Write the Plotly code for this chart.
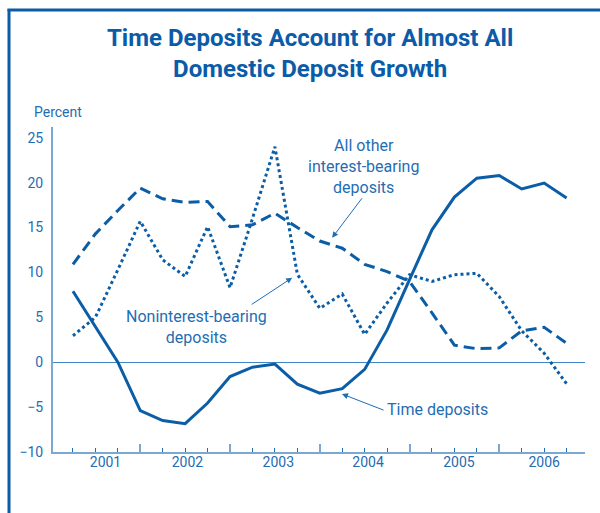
import plotly.graph_objects as go

# ---------------- data ----------------
quarters = [f"{y}Q{q}" for y in range(2001, 2007) for q in range(1, 5)][:23]
time_deposits = [7.9, 4.0, 0.0, -5.4, -6.5, -6.85, -4.55, -1.6, -0.55, -0.2, -2.45,
                 -3.45, -2.95, -0.8, 3.6, 9.2, 14.75, 18.4, 20.5, 20.8, 19.3, 19.95, 18.3]
other_interest = [10.9, 14.3, 16.9, 19.4, 18.2, 17.8, 17.9, 15.1, 15.3, 16.6, 15.0,
                  13.5, 12.7, 10.9, 10.1, 9.0, 5.5, 1.9, 1.5, 1.6, 3.5, 3.9, 2.1]
noninterest = [2.95, 5.0, 10.3, 15.7, 11.4, 9.55, 15.1, 8.3, 16.0, 24.0, 9.8,
               6.0, 7.6, 3.1, 6.6, 9.75, 9.0, 9.75, 9.9, 7.3, 3.5, 1.0, -2.4]
years = ["2001", "2002", "2003", "2004", "2005", "2006"]
year_label_pos = [1.45, 5.1, 9.15, 13.15, 17.2, 21.0]
y_ticks = [-10, -5, 0, 5, 10, 15, 20, 25]

x = list(range(len(quarters)))
major_ticks = [i for i, q in enumerate(quarters) if q.endswith("Q4")]

LINE = "#0b5ea6"
TEXT = "#1f6db3"
AXIS = "#7aa8d2"
FONT = "Roboto, sans-serif"

fig = go.Figure()
fig.add_trace(go.Scatter(x=x, y=other_interest, mode="lines",
                         line=dict(color=LINE, width=3, dash="11px,6px")))
fig.add_trace(go.Scatter(x=x, y=noninterest, mode="lines",
                         line=dict(color=LINE, width=3, dash="dot")))
fig.add_trace(go.Scatter(x=x, y=time_deposits, mode="lines",
                         line=dict(color=LINE, width=3)))
# invisible trace to carry the year labels axis
fig.add_trace(go.Scatter(x=[x[0]], y=[0], xaxis="x2", mode="markers",
                         marker=dict(opacity=0), hoverinfo="skip"))

W, H = 600, 513
ml, mr, mt, mb = 53, 15, 127, 61
xr = [-0.89, 22.82]
pw, ph = W - ml - mr, H - mt - mb


def px2paper_x(px):
    return (px - ml) / pw


def px2paper_y(py):
    return (H - mb - py) / ph


fig.update_layout(
    width=W, height=H, showlegend=False,
    margin=dict(l=ml, r=mr, t=mt, b=mb),
    paper_bgcolor="white", plot_bgcolor="white",
    font=dict(family=FONT, color=TEXT, size=14),
    xaxis=dict(range=xr, showgrid=False, zeroline=False, showline=True,
               linecolor=AXIS, linewidth=2,
               tickmode="array", tickvals=major_ticks, ticktext=["" for _ in major_ticks],
               ticks="inside", ticklen=8, tickwidth=1.5, tickcolor=AXIS,
               minor=dict(tickmode="linear", tick0=0, dtick=1, ticks="inside",
                          ticklen=4, tickwidth=1.2, tickcolor=TEXT, showgrid=False)),
    xaxis2=dict(range=xr, overlaying="x", side="bottom", anchor="y", showgrid=False,
                zeroline=False, showline=False, ticks="",
                tickmode="array", tickvals=year_label_pos, ticktext=years,
                tickfont=dict(size=14, color=TEXT)),
    yaxis=dict(range=[-10, 26.2], showgrid=False, showline=True, linecolor=AXIS,
               linewidth=2, ticks="", tickmode="array", tickvals=y_ticks,
               zeroline=True, zerolinecolor="#3f86c6", zerolinewidth=1.2,
               tickfont=dict(size=14, color=TEXT), ticklabelstandoff=5),
)

# title
fig.add_annotation(text="<b>Time Deposits Account for Almost All<br>Domestic Deposit Growth</b>",
                   xref="paper", yref="paper", x=px2paper_x(310), y=px2paper_y(53),
                   xanchor="center", yanchor="middle", showarrow=False, align="center",
                   font=dict(family=FONT, size=24, color="#0b5ca8"))

# "Percent" label
fig.add_annotation(text="Percent", xref="paper", yref="paper",
                   x=px2paper_x(58), y=px2paper_y(112),
                   xanchor="center", yanchor="middle", showarrow=False,
                   font=dict(size=14, color=TEXT))

# series labels
lab_font = dict(size=16, color=TEXT)
fig.add_annotation(text="All other<br>interest-bearing<br>deposits", x=12.93, y=21.83,
                   showarrow=False, font=lab_font, align="center")
fig.add_annotation(text="Noninterest-bearing<br>deposits", x=5.49, y=3.9,
                   showarrow=False, font=lab_font, align="center")
fig.add_annotation(text="Time deposits", x=16.23, y=-5.3,
                   showarrow=False, font=lab_font, align="center")

# arrows
for head, tail in [((11.55, 13.86), (12.93, 18.43)),
                   ((9.77, 9.41), (7.9, 6.33)),
                   ((11.99, -3.54), (13.91, -5.4))]:
    fig.add_annotation(text="", x=head[0], y=head[1], ax=tail[0], ay=tail[1],
                       axref="x", ayref="y", showarrow=True, arrowhead=2,
                       arrowsize=1.2, arrowwidth=1, arrowcolor=TEXT)

# outer frame (left and top rules)
BORDER = "#0b5ca6"
fig.add_shape(type="line", xref="paper", yref="paper",
              x0=px2paper_x(9), x1=px2paper_x(9), y0=px2paper_y(9), y1=px2paper_y(515),
              line=dict(color=BORDER, width=3))
fig.add_shape(type="line", xref="paper", yref="paper",
              x0=px2paper_x(7.5), x1=px2paper_x(602), y0=px2paper_y(10), y1=px2paper_y(10),
              line=dict(color=BORDER, width=3))

fig.write_html("out.html")
